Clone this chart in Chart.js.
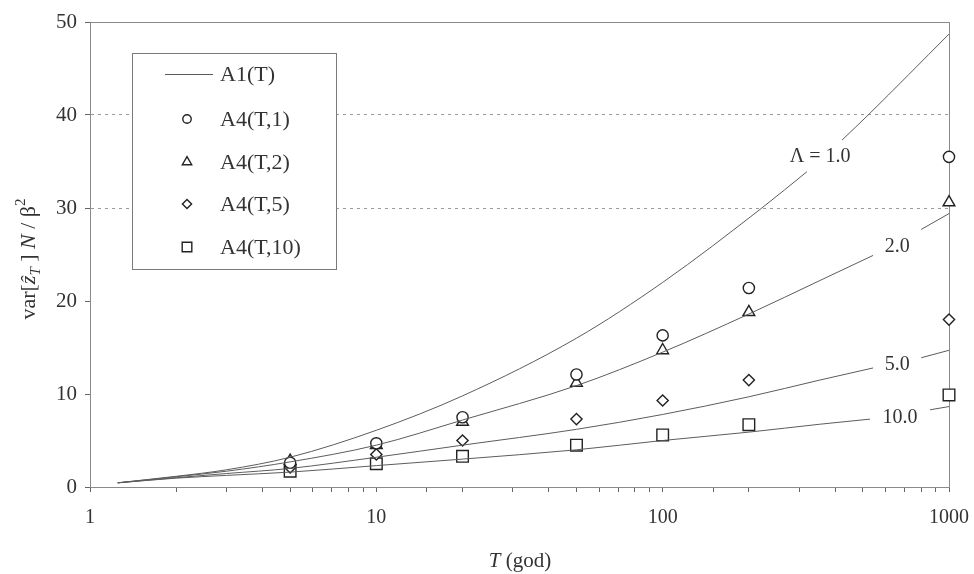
<!DOCTYPE html>
<html>
<head>
<meta charset="utf-8">
<script src="https://cdn.jsdelivr.net/npm/chart.js@4.4.1/dist/chart.umd.min.js"></script>
<style>
  html, body { margin: 0; padding: 0; background: #ffffff; }
  #wrap { width: 974px; height: 574px; }
</style>
</head>
<body>
<div id="wrap"><canvas id="c" width="974" height="574"></canvas></div>
<script>
// Return periods (years) at which the A4 estimates are plotted
const returnPeriods = [5, 10, 20, 50, 100, 200, 1000];
const a4T1  = [2.6, 4.7, 7.5, 12.1, 16.3, 21.4, 35.5];
const a4T2  = [2.8, 4.5, 7.0, 11.2, 14.7, 18.8, 30.6];
const a4T5  = [2.1, 3.5, 5.0, 7.3, 9.3, 11.5, 18.0];
const a4T10 = [1.7, 2.5, 3.3, 4.5, 5.6, 6.7, 9.9];

// A1(T) curves for Λ = 1, 2, 5, 10 (null = break where the Λ label sits)
const curveT1  = [1.25, 2, 3, 5, 10, 20, 50, 100, 222, 319, 370, 423, 522, 1000];
const curveV1  = [0.45, 1.15, 1.85, 3.2, 6.1, 9.8, 16.0, 22.0, 30.0, 33.9, null, 37.3, 40.0, 48.7];
const curveT2  = [1.25, 2, 3, 5, 10, 20, 50, 100, 200, 354, 543, 660, 800, 1000];
const curveV2  = [0.45, 1.1, 1.7, 2.7, 4.5, 7.2, 10.9, 14.5, 18.6, 22.2, 24.9, null, 27.7, 29.4];
const curveT5  = [1.25, 2, 3, 5, 10, 20, 50, 100, 200, 354, 543, 660, 800, 1000];
const curveV5  = [0.45, 1.0, 1.45, 2.0, 3.2, 4.5, 6.2, 7.8, 9.7, 11.5, 12.8, null, 13.9, 14.7];
const curveT10 = [1.25, 2, 3, 5, 10, 20, 50, 100, 200, 354, 530, 680, 859, 1000];
const curveV10 = [0.45, 0.95, 1.25, 1.6, 2.3, 3.0, 4.0, 5.0, 5.9, 6.75, 7.3, null, 8.3, 8.65];

// Curve labels, anchored in data coordinates (T, value)
const curveLabelText = ['\u039B = 1.0', '2.0', '5.0', '10.0'];
const curveLabelT    = [355, 659, 659, 675];
const curveLabelV    = [35.5, 25.8, 13.1, 7.5];

// Axis ticks
const xTickLabels = [1, 10, 100, 1000];
const yTicks = [0, 10, 20, 30, 40, 50];
const yDottedGrid = [30, 40];

const SERIF = "'Liberation Serif', 'Times New Roman', serif";
const TEXT = '#333333';
const CURVE = '#5c5c5c';
const MARK = '#222222';

Chart.defaults.font.family = SERIF;
Chart.defaults.color = TEXT;

function zipXY(xs, ys) { return xs.map((x, i) => ({ x: x, y: ys[i] })); }

function curveSet(label, ts, vs) {
  return {
    type: 'line', label: label, data: zipXY(ts, vs),
    borderColor: CURVE, borderWidth: 1, pointRadius: 0, pointHoverRadius: 0,
    cubicInterpolationMode: 'monotone', spanGaps: false, showLine: true, fill: false
  };
}
function markSet(label, vs, style, r) {
  return {
    type: 'scatter', label: label, data: zipXY(returnPeriods, vs), clip: false,
    pointStyle: style, pointRadius: r, pointHoverRadius: r,
    borderColor: MARK, backgroundColor: '#ffffff', pointBorderWidth: 1.4, borderWidth: 1.4
  };
}

// Box around the plotting area
const framePlugin = {
  id: 'frame',
  beforeDatasetsDraw(chart) {
    const { ctx, chartArea: a } = chart;
    ctx.save();
    ctx.strokeStyle = '#8a8a8a';
    ctx.lineWidth = 1;
    ctx.strokeRect(Math.round(a.left) + 0.5, Math.round(a.top) + 0.5,
                   Math.round(a.right - a.left), Math.round(a.bottom - a.top));
    ctx.restore();
  }
};

// Λ labels next to the curves
const curveLabelPlugin = {
  id: 'curveLabels',
  afterDatasetsDraw(chart) {
    const { ctx, scales: { x, y } } = chart;
    ctx.save();
    ctx.font = '20px ' + SERIF;
    ctx.fillStyle = TEXT;
    ctx.textAlign = 'center';
    ctx.textBaseline = 'middle';
    curveLabelText.forEach((t, i) => {
      ctx.fillText(t, x.getPixelForValue(curveLabelT[i]), y.getPixelForValue(curveLabelV[i]));
    });
    ctx.restore();
  }
};

function drawShape(ctx, style, cx, cy, r) {
  ctx.beginPath();
  if (style === 'circle') {
    ctx.arc(cx, cy, r, 0, Math.PI * 2);
  } else if (style === 'triangle') {
    ctx.moveTo(cx, cy - r);
    ctx.lineTo(cx + r * 0.866, cy + r * 0.5);
    ctx.lineTo(cx - r * 0.866, cy + r * 0.5);
    ctx.closePath();
  } else if (style === 'rectRot') {
    ctx.moveTo(cx, cy - r); ctx.lineTo(cx + r, cy); ctx.lineTo(cx, cy + r); ctx.lineTo(cx - r, cy);
    ctx.closePath();
  } else {
    const s = r * Math.SQRT1_2;
    ctx.rect(cx - s, cy - s, 2 * s, 2 * s);
  }
  ctx.fillStyle = '#ffffff';
  ctx.fill();
  ctx.stroke();
}

// Boxed legend inside the plot
const legendPlugin = {
  id: 'boxLegend',
  afterDatasetsDraw(chart) {
    const ctx = chart.ctx;
    const box = { l: 132, t: 53, r: 336, b: 269 };
    ctx.save();
    ctx.fillStyle = '#ffffff';
    ctx.fillRect(box.l, box.t, box.r - box.l, box.b - box.t);
    ctx.strokeStyle = '#7a7a7a';
    ctx.lineWidth = 1;
    ctx.strokeRect(box.l + 0.5, box.t + 0.5, box.r - box.l, box.b - box.t);

    const items = [
      { text: 'A1(T)', kind: 'line' },
      { text: 'A4(T,1)', kind: 'circle', r: 4.2 },
      { text: 'A4(T,2)', kind: 'triangle', r: 5.4 },
      { text: 'A4(T,5)', kind: 'rectRot', r: 4.6 },
      { text: 'A4(T,10)', kind: 'rect', r: 6.8 }
    ];
    const rowY = [74, 119, 162, 204, 247];
    ctx.font = '22px ' + SERIF;
    ctx.textBaseline = 'middle';
    ctx.textAlign = 'left';
    items.forEach((it, i) => {
      const yy = rowY[i];
      ctx.strokeStyle = it.kind === 'line' ? CURVE : MARK;
      ctx.lineWidth = it.kind === 'line' ? 1 : 1.4;
      if (it.kind === 'line') {
        ctx.beginPath(); ctx.moveTo(165, yy + 0.5); ctx.lineTo(213, yy + 0.5); ctx.stroke();
      } else {
        drawShape(ctx, it.kind, 187, yy, it.r);
      }
      ctx.fillStyle = TEXT;
      ctx.fillText(it.text, 220, yy + 1);
    });
    ctx.restore();
  }
};

// Draw a sequence of styled text runs centred at (cx, cy), optionally rotated
function drawRuns(ctx, runs, cx, cy, angle, baseShift) {
  ctx.save();
  ctx.translate(cx, cy);
  ctx.rotate(angle);
  let total = 0;
  runs.forEach(r => { ctx.font = r.font; r.w = ctx.measureText(r.text).width; total += r.w; });
  let xx = -total / 2;
  ctx.textAlign = 'left';
  ctx.textBaseline = 'alphabetic';
  ctx.fillStyle = TEXT;
  runs.forEach(r => {
    ctx.font = r.font;
    ctx.fillText(r.text, xx, baseShift + (r.dy || 0));
    xx += r.w;
  });
  ctx.restore();
}

const titlePlugin = {
  id: 'axisTitles',
  afterDraw(chart) {
    const ctx = chart.ctx;
    const reg = '22px ' + SERIF, ita = 'italic 22px ' + SERIF;
    const sReg = '15px ' + SERIF, sIta = 'italic 15px ' + SERIF;
    drawRuns(ctx, [
      { text: 'var[', font: reg },
      { text: '\u1E91', font: ita },
      { text: 'T', font: sIta, dy: 5 },
      { text: ' ]', font: reg },
      { text: ' N', font: ita },
      { text: ' / ', font: reg },
      { text: '\u03B2', font: reg },
      { text: '2', font: sReg, dy: -10 }
    ], 27, 259, -Math.PI / 2, 8);
    drawRuns(ctx, [
      { text: 'T', font: 'italic 21px ' + SERIF },
      { text: ' (god)', font: '21px ' + SERIF }
    ], 520, 560, 0, 7);
  }
};

new Chart(document.getElementById('c'), {
  type: 'scatter',
  data: {
    datasets: [
      curveSet('\u039B = 1.0', curveT1, curveV1),
      curveSet('\u039B = 2.0', curveT2, curveV2),
      curveSet('\u039B = 5.0', curveT5, curveV5),
      curveSet('\u039B = 10.0', curveT10, curveV10),
      markSet('A4(T,1)', a4T1, 'circle', 5.6),
      markSet('A4(T,2)', a4T2, 'triangle', 6.8),
      markSet('A4(T,5)', a4T5, 'rectRot', 5.6),
      markSet('A4(T,10)', a4T10, 'rect', 8.2)
    ]
  },
  options: {
    responsive: false,
    animation: false,
    devicePixelRatio: 1,
    layout: { padding: { top: 22, right: 25, left: 0, bottom: 0 } },
    plugins: { legend: { display: false }, tooltip: { enabled: false } },
    scales: {
      x: {
        type: 'logarithmic', position: 'bottom', min: 1, max: 1000,
        afterFit(scale) { scale.height = 87; scale.paddingLeft = 0; scale.paddingRight = 0; },
        grid: { drawOnChartArea: false, drawTicks: true, tickLength: 5, tickColor: '#666', tickWidth: 1 },
        border: { color: '#555', width: 1 },
        ticks: {
          autoSkip: false, maxRotation: 0, minRotation: 0, padding: 14,
          color: TEXT, font: { size: 20, family: SERIF },
          callback: (v) => xTickLabels.includes(v) ? String(v) : ''
        }
      },
      y: {
        min: 0, max: 50,
        afterFit(scale) { scale.width = 90; scale.paddingTop = 0; scale.paddingBottom = 0; },
        afterBuildTicks(scale) { scale.ticks = yTicks.map(v => ({ value: v })); },
        grid: {
          drawOnChartArea: true, drawTicks: true, tickLength: 5, tickColor: '#666', tickWidth: 1,
          color: (c) => (c.tick && yDottedGrid.includes(c.tick.value)) ? '#9a9a9a' : 'rgba(0,0,0,0)',
          lineWidth: 1
        },
        border: { color: '#8a8a8a', width: 1, dash: [3, 4] },
        ticks: { padding: 8, color: TEXT, font: { size: 21, family: SERIF } }
      }
    }
  },
  plugins: [framePlugin, curveLabelPlugin, legendPlugin, titlePlugin]
});
</script>
</body>
</html>
